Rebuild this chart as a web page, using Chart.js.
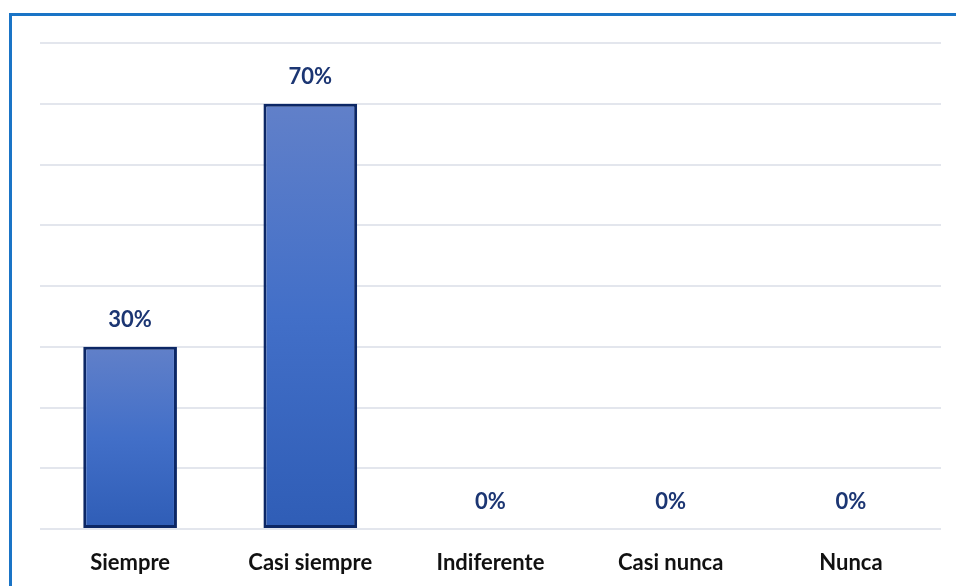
<!DOCTYPE html>
<html>
<head>
<meta charset="utf-8">
<script src="https://cdn.jsdelivr.net/npm/chart.js@4"></script>
<style>
  html, body { margin: 0; padding: 0; background: #fff; overflow: hidden; }
  #frame { position: absolute; left: 9px; top: 13px; width: 2000px; height: 2000px;
           border-top: 3px solid #1a74c6; border-left: 3px solid #1a74c6; }
  #wrap { position: absolute; left: 0; top: 0; width: 956px; height: 586px; }
</style>
</head>
<body>
<div id="frame"></div>
<div id="wrap"><canvas id="respuestasChart"></canvas></div>
<script>
const categorias = ['Siempre', 'Casi siempre', 'Indiferente', 'Casi nunca', 'Nunca'];
const porcentajes = [30, 70, 0, 0, 0];
const ejeMax = 80;
const ejeStep = 10;

const fuente = 'Lato, "Open Sans", sans-serif';

// etiquetas encima de cada barra
const etiquetasPlugin = {
  id: 'etiquetas',
  afterDatasetsDraw(chart) {
    const c = chart.ctx;
    const meta = chart.getDatasetMeta(0);
    c.save();
    c.font = 'bold 22px ' + fuente;
    c.fillStyle = '#1c3673';
    c.textAlign = 'center';
    c.textBaseline = 'middle';
    meta.data.forEach((bar, i) => {
      c.fillText(porcentajes[i] + '%', bar.x, bar.y - 27);
    });
    c.restore();
  }
};

function degradado(context) {
  const chart = context.chart;
  if (!chart.chartArea) return '#3a66c0';
  const y = chart.scales.y;
  const top = y.getPixelForValue(context.raw || 0.0001);
  const bottom = y.getPixelForValue(0);
  const g = chart.ctx.createLinearGradient(0, top, 0, bottom);
  g.addColorStop(0, '#6180c9');
  g.addColorStop(0.5, '#426fc8');
  g.addColorStop(1, '#2f5db6');
  return g;
}

const ctx = document.getElementById('respuestasChart').getContext('2d');
const respuestasChart = new Chart(ctx, {
  type: 'bar',
  data: {
    labels: categorias,
    datasets: [{
      data: porcentajes,
      backgroundColor: degradado,
      borderColor: '#0c2765',
      borderWidth: 3,
      borderSkipped: false,
      barPercentage: 0.52,
      categoryPercentage: 1
    }]
  },
  options: {
    responsive: true,
    maintainAspectRatio: false,
    animation: false,
    layout: { padding: { left: 40, right: 15, top: 43, bottom: 0 } },
    scales: {
      x: {
        grid: { display: false },
        border: { display: false },
        ticks: {
          color: '#111',
          padding: 13,
          font: { family: fuente, size: 22, weight: 'bold' }
        },
        afterFit(scale) { scale.height = 57; }
      },
      y: {
        min: 0,
        max: ejeMax,
        border: { display: false },
        ticks: { display: false, stepSize: ejeStep },
        grid: { color: '#e3e6ed', lineWidth: 2, drawTicks: false }
      }
    },
    plugins: {
      legend: { display: false },
      tooltip: { enabled: false }
    }
  },
  plugins: [etiquetasPlugin]
});
</script>
</body>
</html>
